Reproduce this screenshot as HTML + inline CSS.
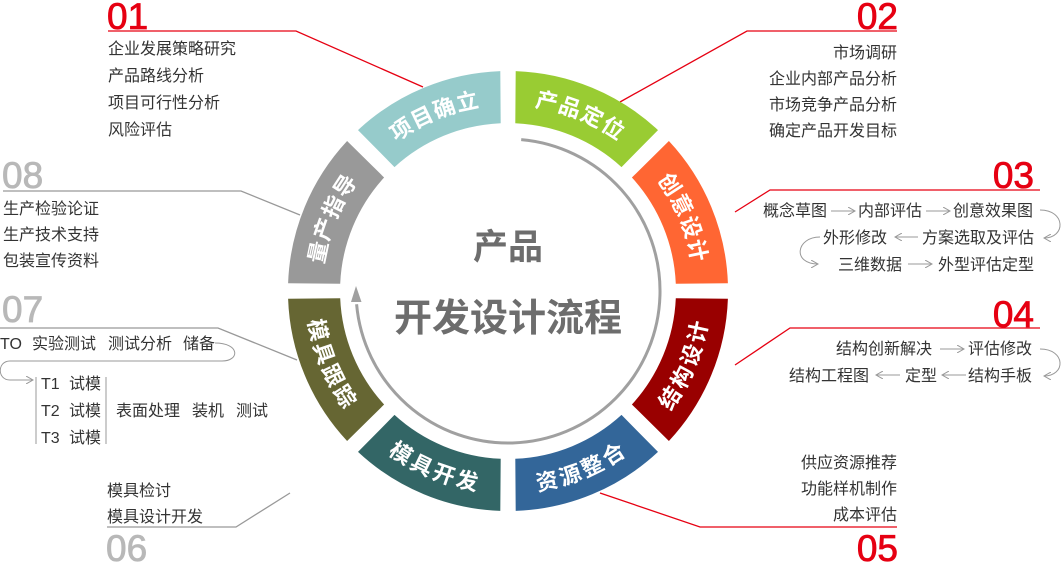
<!DOCTYPE html>
<html><head><meta charset="utf-8"><style>
html,body{margin:0;padding:0;background:#fff;}
svg{display:block;}
.t{font-family:"Liberation Sans","Noto Sans CJK SC",sans-serif;font-size:16px;fill:#333;}
.n{font-family:"Liberation Sans",sans-serif;font-size:37px;stroke-width:0.8px;}
.seg{font-family:"Liberation Sans","Noto Sans CJK SC",sans-serif;font-size:22px;font-weight:bold;fill:#fff;letter-spacing:2px;}
.c{font-family:"Liberation Sans","Noto Sans CJK SC",sans-serif;font-weight:bold;fill:#6d6d6d;}
</style></head><body>
<svg width="1063" height="562" viewBox="0 0 1063 562">
<defs>
<marker id="ah" markerWidth="8" markerHeight="8" refX="7" refY="4" orient="auto" markerUnits="userSpaceOnUse"><path d="M0,0 L7,4 L0,8" fill="none" stroke="#999" stroke-width="1"/></marker>
<path id="p8" d="M314.1,284.2 A194,194 0 0 1 366.1,158.7"/>
<path id="p1" d="M375.7,149.1 A194,194 0 0 1 501.2,97.1"/>
<path id="p2" d="M514.8,97.1 A194,194 0 0 1 640.3,149.1"/>
<path id="p3" d="M649.9,158.7 A194,194 0 0 1 701.9,284.2"/>
<path id="p4" d="M649.9,423.3 A194,194 0 0 0 701.9,297.8"/>
<path id="p5" d="M514.8,484.9 A194,194 0 0 0 640.3,432.9"/>
<path id="p6" d="M375.7,432.9 A194,194 0 0 0 501.2,484.9"/>
<path id="p7" d="M314.1,297.8 A194,194 0 0 0 366.1,423.3"/>
</defs>

<g fill="none" stroke-width="1.3">
<path d="M108,31 L296,31 L423,87" stroke="#e60012"/>
<path d="M897,31 L747,31 L620,102" stroke="#e60012"/>
<path d="M1040,190 L770,190 L735,212" stroke="#e60012"/>
<path d="M1040,328 L790,328 L735,365" stroke="#e60012"/>
<path d="M897,527 L700,527 L600,493" stroke="#e60012"/>
<path d="M3,191 L241,191 L300,215" stroke="#999"/>
<path d="M0,328 L218,328 L297,360" stroke="#999"/>
<path d="M107,527 L236,527 L290,493" stroke="#999"/>
</g>

<path d="M358.0,130.1 A220,220 0 0 1 500.3,71.1 L500.7,123.2 A168,168 0 0 0 394.5,167.1 Z" fill="#96cbcb"/>
<path d="M515.7,71.1 A220,220 0 0 1 658.0,130.1 L621.5,167.1 A168,168 0 0 0 515.3,123.2 Z" fill="#99cc33"/>
<path d="M668.9,141.0 A220,220 0 0 1 727.9,283.3 L675.8,283.7 A168,168 0 0 0 631.9,177.5 Z" fill="#ff6633"/>
<path d="M727.9,298.7 A220,220 0 0 1 668.9,441.0 L631.9,404.5 A168,168 0 0 0 675.8,298.3 Z" fill="#990000"/>
<path d="M658.0,451.9 A220,220 0 0 1 515.7,510.9 L515.3,458.8 A168,168 0 0 0 621.5,414.9 Z" fill="#336699"/>
<path d="M500.3,510.9 A220,220 0 0 1 358.0,451.9 L394.5,414.9 A168,168 0 0 0 500.7,458.8 Z" fill="#336666"/>
<path d="M347.1,441.0 A220,220 0 0 1 288.1,298.7 L340.2,298.3 A168,168 0 0 0 384.1,404.5 Z" fill="#666633"/>
<path d="M288.1,283.3 A220,220 0 0 1 347.1,141.0 L384.1,177.5 A168,168 0 0 0 340.2,283.7 Z" fill="#999999"/>

<g class="seg" dominant-baseline="central" text-anchor="middle">
<text><textPath href="#p1" startOffset="50%">项目确立</textPath></text>
<text><textPath href="#p2" startOffset="50%">产品定位</textPath></text>
<text><textPath href="#p3" startOffset="50%">创意设计</textPath></text>
<text><textPath href="#p4" startOffset="50%">结构设计</textPath></text>
<text><textPath href="#p5" startOffset="50%">资源整合</textPath></text>
<text><textPath href="#p6" startOffset="50%">模具开发</textPath></text>
<text><textPath href="#p7" startOffset="50%">模具跟踪</textPath></text>
<text><textPath href="#p8" startOffset="50%">量产指导</textPath></text>
</g>

<path d="M521.2,139.6 A152,152 0 1 1 356.6,304.3" fill="none" stroke="#a0a0a0" stroke-width="3"/>
<polygon points="356,286 351,302 361.5,302" fill="#a0a0a0"/>

<text class="c" x="508" y="259" font-size="35" text-anchor="middle">产品</text>
<text class="c" x="508" y="331" font-size="38" text-anchor="middle">开发设计流程</text>

<text class="n" x="107" y="29" fill="#e60012" stroke="#e60012">01</text>
<text class="n" x="898" y="29" fill="#e60012" stroke="#e60012" text-anchor="end">02</text>
<text class="n" x="1034" y="188" fill="#e60012" stroke="#e60012" text-anchor="end">03</text>
<text class="n" x="1034" y="327" fill="#e60012" stroke="#e60012" text-anchor="end">04</text>
<text class="n" x="898" y="561" fill="#e60012" stroke="#e60012" text-anchor="end">05</text>
<text class="n" x="106" y="561" fill="#b8b8b8" stroke="#b8b8b8">06</text>
<text class="n" x="2" y="322" fill="#b8b8b8" stroke="#b8b8b8">07</text>
<text class="n" x="2" y="188" fill="#b8b8b8" stroke="#b8b8b8">08</text>

<g class="t">
<text x="108" y="54">企业发展策略研究</text>
<text x="108" y="81">产品路线分析</text>
<text x="108" y="108">项目可行性分析</text>
<text x="108" y="135">风险评估</text>
</g>
<g class="t" text-anchor="end">
<text x="897" y="58">市场调研</text>
<text x="897" y="84">企业内部产品分析</text>
<text x="897" y="110">市场竞争产品分析</text>
<text x="897" y="136">确定产品开发目标</text>
</g>
<g class="t">
<text x="3" y="214">生产检验论证</text>
<text x="3" y="240">生产技术支持</text>
<text x="3" y="266">包装宣传资料</text>
</g>
<g class="t">
<text x="763" y="216">概念草图</text>
<text x="858" y="216">内部评估</text>
<text x="953" y="216">创意效果图</text>
<text x="823" y="243">外形修改</text>
<text x="922" y="243">方案选取及评估</text>
<text x="838" y="270">三维数据</text>
<text x="938" y="270">外型评估定型</text>
</g>
<g fill="none" stroke="#999" stroke-width="1">
<path d="M831,211 L855,211" marker-end="url(#ah)"/>
<path d="M926,211 L950,211" marker-end="url(#ah)"/>
<path d="M918,237 L895,237" marker-end="url(#ah)"/>
<path d="M908,264 L932,264" marker-end="url(#ah)"/>
<path d="M1040,210 C1066,210 1066,238 1044,238" marker-end="url(#ah)"/>
<path d="M820,237 C796,237 792,264 818,264" marker-end="url(#ah)"/>
</g>
<g class="t">
<text x="836" y="354">结构创新解决</text>
<text x="968" y="354">评估修改</text>
<text x="789" y="381">结构工程图</text>
<text x="905" y="381">定型</text>
<text x="968" y="381">结构手板</text>
</g>
<g fill="none" stroke="#999" stroke-width="1">
<path d="M940,349 L964,349" marker-end="url(#ah)"/>
<path d="M900,375 L876,375" marker-end="url(#ah)"/>
<path d="M966,375 L942,375" marker-end="url(#ah)"/>
<path d="M1040,349 C1066,349 1066,376 1044,376" marker-end="url(#ah)"/>
</g>
<g class="t" text-anchor="end">
<text x="897" y="468">供应资源推荐</text>
<text x="897" y="494">功能样机制作</text>
<text x="897" y="520">成本评估</text>
</g>
<g class="t">
<text x="107" y="496">模具检讨</text>
<text x="107" y="522">模具设计开发</text>
</g>
<g class="t">
<text x="0" y="349">TO</text>
<text x="32" y="349">实验测试</text>
<text x="108" y="349">测试分析</text>
<text x="183" y="349">储备</text>
<text x="41" y="389">T1</text><text x="69" y="389">试模</text>
<text x="41" y="416">T2</text><text x="69" y="416">试模</text>
<text x="41" y="443">T3</text><text x="69" y="443">试模</text>
<text x="116" y="416">表面处理</text>
<text x="192" y="416">装机</text>
<text x="236" y="416">测试</text>
</g>
<g fill="none" stroke="#999" stroke-width="1">
<path d="M215,343 C240,343 240,361 222,361 L10,361 C-3,361 -3,380 10,380 L33,380" marker-end="url(#ah)"/>
<path d="M36,377 L36,444 M106,377 L106,444"/>
</g>
</svg>
</body></html>
